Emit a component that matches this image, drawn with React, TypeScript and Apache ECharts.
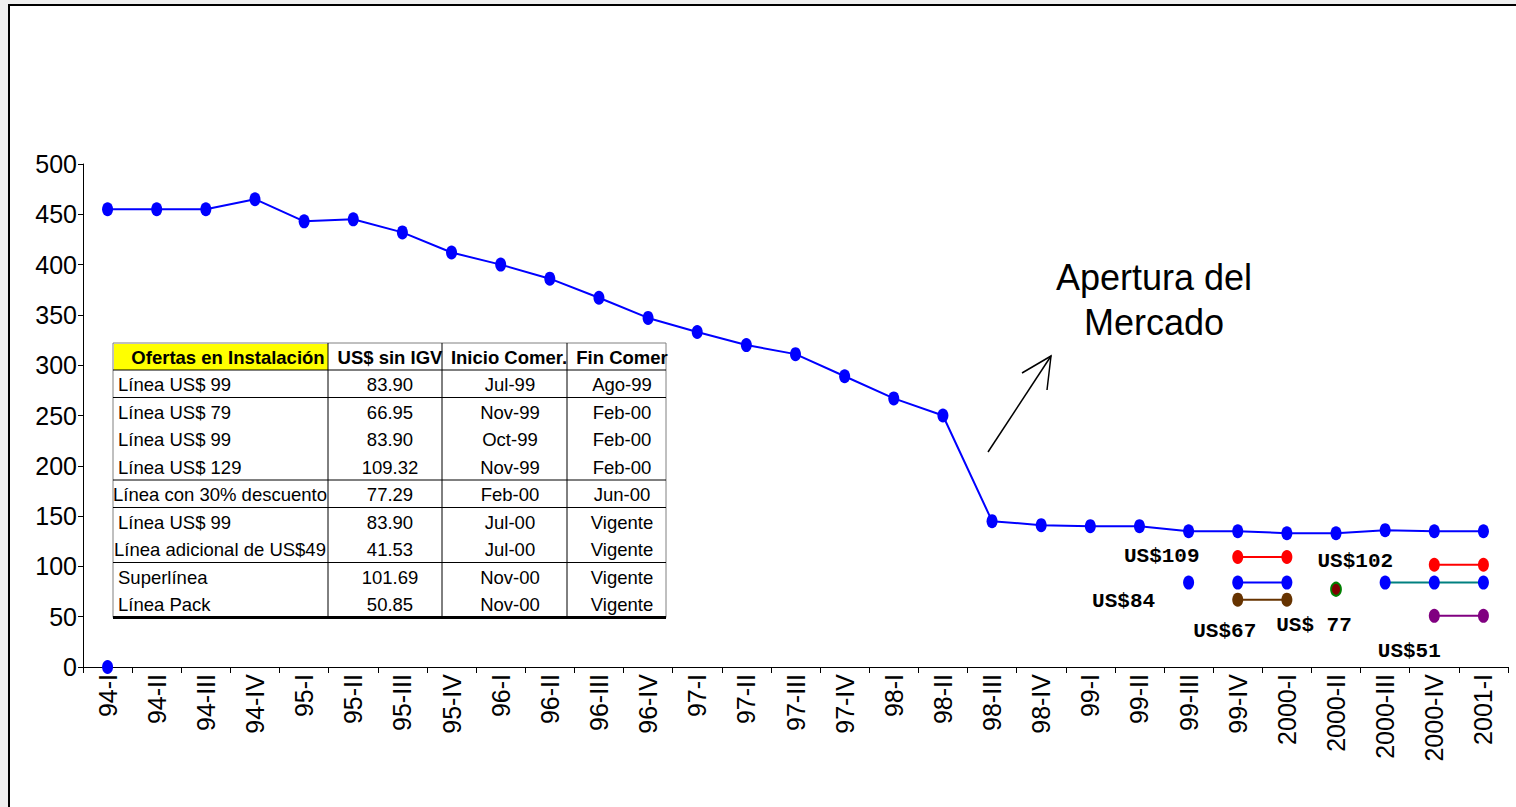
import React, { useEffect, useRef } from 'react';
import * as echarts from 'echarts';

const categories = [
  '94-I', '94-II', '94-III', '94-IV',
  '95-I', '95-II', '95-III', '95-IV',
  '96-I', '96-II', '96-III', '96-IV',
  '97-I', '97-II', '97-III', '97-IV',
  '98-I', '98-II', '98-III', '98-IV',
  '99-I', '99-II', '99-III', '99-IV',
  '2000-I', '2000-II', '2000-III', '2000-IV',
  '2001-I',
];
const tarifaInstalacion = [
  455, 455, 455, 465,
  443, 445, 432, 412,
  400, 386, 367, 347,
  333, 320, 311, 289,
  267, 250, 145, 141,
  140, 140, 135, 135,
  133, 133, 136, 135,
  135,
];
const puntoInicial: [string, number][] = [['94-I', 0]];
const ofertaUS99Jul99: [string, number][] = [['99-III', 83.9]];
const ofertaUS129: [string, number][] = [['99-IV', 109.32], ['2000-I', 109.32]];
const ofertaUS99Oct99: [string, number][] = [['99-IV', 83.9], ['2000-I', 83.9]];
const ofertaUS79: [string, number][] = [['99-IV', 66.95], ['2000-I', 66.95]];
const ofertaDescuento: [string, number][] = [['2000-II', 77.29]];
const ofertaUS99Jul00: [string, number][] = [['2000-III', 83.9], ['2000-IV', 83.9], ['2001-I', 83.9]];
const ofertaSuperlinea: [string, number][] = [['2000-IV', 101.69], ['2001-I', 101.69]];
const ofertaPack: [string, number][] = [['2000-IV', 50.85], ['2001-I', 50.85]];

const tablaEncabezado = ['Ofertas en Instalación', 'US$ sin IGV', 'Inicio Comer.', 'Fin Comer'];
const tablaOferta = [
  'Línea US$ 99', 'Línea US$ 79', 'Línea US$ 99', 'Línea US$ 129',
  'Línea con 30% descuento', 'Línea US$ 99', 'Línea adicional de US$49',
  'Superlínea', 'Línea Pack',
];
const tablaPrecio = ['83.90', '66.95', '83.90', '109.32', '77.29', '83.90', '41.53', '101.69', '50.85'];
const tablaInicio = ['Jul-99', 'Nov-99', 'Oct-99', 'Nov-99', 'Feb-00', 'Jul-00', 'Jul-00', 'Nov-00', 'Nov-00'];
const tablaFin = ['Ago-99', 'Feb-00', 'Feb-00', 'Feb-00', 'Jun-00', 'Vigente', 'Vigente', 'Vigente', 'Vigente'];
const tablaGrupos = [1, 3, 1, 2, 2];

const SANS = "'Liberation Sans', Arial, sans-serif";
const MONO = "'Liberation Mono', 'Courier New', monospace";

function labeled(pairs: [string, number][], idx: number, text: string, offset: number[]) {
  return pairs.map((p, i) =>
    i === idx
      ? {
          value: p,
          label: {
            show: true,
            formatter: text,
            position: 'inside',
            offset,
            fontFamily: MONO,
            fontWeight: 'bold',
            fontSize: 21,
            color: '#000',
          },
        }
      : { value: p }
  );
}

function buildTable() {
  const colX = [113, 328, 442, 567, 666];
  const top = 343;
  const headTop = 370;
  const rowH = 27.5;
  const els: any[] = [];
  const nRows = tablaOferta.length;
  const bottom = headTop + rowH * nRows;
  els.push({
    type: 'rect',
    shape: { x: colX[0], y: top, width: colX[4] - colX[0], height: bottom - top },
    style: { fill: '#fff', stroke: '#808080', lineWidth: 1 },
  });
  els.push({
    type: 'rect',
    shape: { x: colX[0] + 1, y: top + 1, width: colX[1] - colX[0] - 1, height: headTop - top - 1 },
    style: { fill: '#ffff00' },
  });
  for (let c = 1; c < 4; c++) {
    els.push({
      type: 'line',
      shape: { x1: colX[c], y1: top, x2: colX[c], y2: bottom },
      style: { stroke: '#000', lineWidth: 1 },
    });
  }
  els.push({
    type: 'line',
    shape: { x1: colX[0], y1: headTop, x2: colX[4], y2: headTop },
    style: { stroke: '#000', lineWidth: 1 },
  });
  let acc = 0;
  tablaGrupos.forEach((g, gi) => {
    acc += g;
    const y = headTop + rowH * acc;
    const last = gi === tablaGrupos.length - 1;
    els.push({
      type: 'line',
      shape: { x1: colX[0], y1: y, x2: colX[4], y2: y },
      style: { stroke: '#000', lineWidth: last ? 3 : 1 },
    });
  });
  const headCx = [228, 390, 509, 622];
  tablaEncabezado.forEach((t, i) => {
    els.push({
      type: 'text',
      x: headCx[i],
      y: (top + headTop) / 2 + 1,
      style: {
        text: t, fontFamily: SANS, fontWeight: 'bold', fontSize: 18.5,
        fill: '#000', align: 'center', verticalAlign: 'middle',
      },
    });
  });
  const cx = [390, 510, 622];
  for (let r = 0; r < nRows; r++) {
    const y = headTop + rowH * (r + 0.5) + 1;
    const name = tablaOferta[r];
    const long = name.length > 20;
    els.push({
      type: 'text',
      x: long ? 220 : 118,
      y,
      style: {
        text: name, fontFamily: SANS, fontSize: 18.5, fill: '#000',
        align: long ? 'center' : 'left', verticalAlign: 'middle',
      },
    });
    [tablaPrecio[r], tablaInicio[r], tablaFin[r]].forEach((t, i) => {
      els.push({
        type: 'text',
        x: cx[i],
        y,
        style: {
          text: t, fontFamily: SANS, fontSize: 18.5, fill: '#000',
          align: 'center', verticalAlign: 'middle',
        },
      });
    });
  }
  return els;
}

export default function App() {
  const ref = useRef<HTMLDivElement>(null);
  useEffect(() => {
    document.body.style.margin = '0';
    const chart = echarts.init(ref.current!, null, { renderer: 'svg' });
    const blueDot = { color: '#0000ff' };
    chart.setOption({
      animation: false,
      grid: { left: 83, right: 8, top: 164, bottom: 140, containLabel: false },
      xAxis: {
        type: 'category',
        data: categories,
        boundaryGap: true,
        axisLine: { show: true, lineStyle: { color: '#000', width: 1 } },
        axisTick: { show: true, length: 6, interval: 0, lineStyle: { color: '#000' } },
        axisLabel: {
          interval: 0, rotate: 90, margin: 7, fontSize: 25,
          fontFamily: SANS, color: '#000',
        },
        splitLine: { show: false },
      },
      yAxis: {
        type: 'value',
        min: 0, max: 500, interval: 50,
        axisLine: { show: true, lineStyle: { color: '#000', width: 1 } },
        axisTick: { show: true, length: 5, lineStyle: { color: '#000' } },
        axisLabel: { fontSize: 25, fontFamily: SANS, color: '#000', margin: 6 },
        splitLine: { show: false },
      },
      series: [
        {
          type: 'line', name: 'Tarifa', data: tarifaInstalacion,
          symbol: 'circle', symbolSize: [11, 14],
          lineStyle: { color: '#0000ff', width: 2 }, itemStyle: blueDot,
        },
        {
          type: 'line', name: 'Inicio', data: puntoInicial,
          symbol: 'circle', symbolSize: [11, 14], itemStyle: blueDot,
        },
        {
          type: 'line', name: 'US$99 Jul-99', data: labeled(ofertaUS99Jul99, 0, 'US$84', [-65, 19]),
          symbol: 'circle', symbolSize: [11, 14], itemStyle: blueDot,
        },
        {
          type: 'line', name: 'US$129', data: labeled(ofertaUS129, 0, 'US$109', [-76, -1]),
          symbol: 'circle', symbolSize: [11, 14],
          lineStyle: { color: '#ff0000', width: 2 }, itemStyle: { color: '#ff0000' },
        },
        {
          type: 'line', name: 'US$99 Oct-99', data: ofertaUS99Oct99,
          symbol: 'circle', symbolSize: [11, 14],
          lineStyle: { color: '#0000ff', width: 2 }, itemStyle: blueDot,
        },
        {
          type: 'line', name: 'US$79', data: labeled(ofertaUS79, 0, 'US$67', [-13, 32]),
          symbol: 'circle', symbolSize: [11, 14],
          lineStyle: { color: '#663300', width: 2 }, itemStyle: { color: '#663300' },
        },
        {
          type: 'line', name: '30% descuento', data: labeled(ofertaDescuento, 0, 'US$ 77', [-22, 36]),
          symbol: 'circle', symbolSize: [10, 13],
          itemStyle: { color: '#800000', borderColor: '#008000', borderWidth: 2 },
        },
        {
          type: 'line', name: 'US$99 Jul-00', data: ofertaUS99Jul00,
          symbol: 'circle', symbolSize: [11, 14],
          lineStyle: { color: '#008080', width: 2 }, itemStyle: blueDot,
        },
        {
          type: 'line', name: 'Superlínea', data: labeled(ofertaSuperlinea, 0, 'US$102', [-79, -3]),
          symbol: 'circle', symbolSize: [11, 14],
          lineStyle: { color: '#ff0000', width: 2 }, itemStyle: { color: '#ff0000' },
        },
        {
          type: 'line', name: 'Línea Pack', data: labeled(ofertaPack, 0, 'US$51', [-25, 36]),
          symbol: 'circle', symbolSize: [11, 14],
          lineStyle: { color: '#800080', width: 2 }, itemStyle: { color: '#800080' },
        },
      ],
      graphic: [
        ...buildTable(),
        {
          type: 'text', x: 1154, y: 300,
          style: {
            text: 'Apertura del\nMercado', fontFamily: SANS, fontSize: 36,
            lineHeight: 45, fill: '#000', align: 'center', verticalAlign: 'middle',
          },
        },
        {
          type: 'line',
          shape: { x1: 988, y1: 452, x2: 1051, y2: 356 },
          style: { stroke: '#000', lineWidth: 1.5 },
        },
        {
          type: 'polyline',
          shape: { points: [[1022, 373], [1051, 356], [1047, 390]] },
          style: { stroke: '#000', lineWidth: 1.5, fill: null },
        },
      ],
    });
    return () => chart.dispose();
  }, []);
  return (
    <div style={{ position: 'fixed', left: 0, top: 0, width: 1516, height: 807, background: '#efefef' }}>
      <div
        style={{
          position: 'absolute', left: 8, top: 4, right: 0, bottom: 0,
          background: '#fff', borderLeft: '2px solid #000', borderTop: '2px solid #000',
        }}
      />
      <div ref={ref} style={{ position: 'absolute', left: 0, top: 0, width: 1516, height: 807 }} />
    </div>
  );
}
